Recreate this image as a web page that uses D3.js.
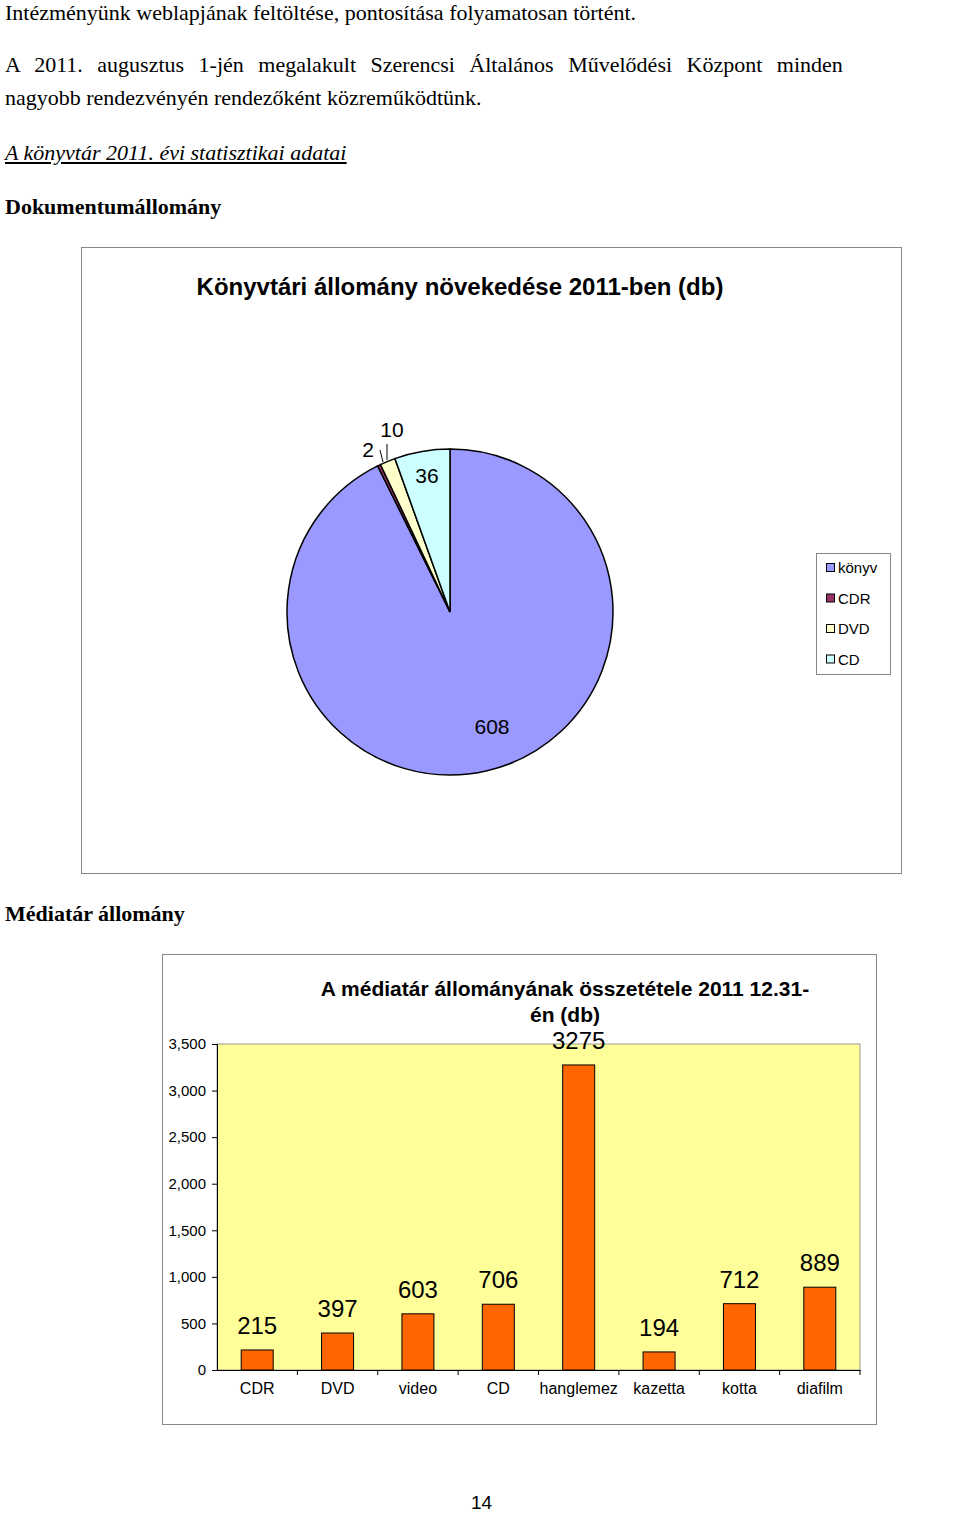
<!DOCTYPE html>
<html><head><meta charset="utf-8">
<script src="https://cdn.jsdelivr.net/npm/d3@7"></script>
<style>
body{margin:0;background:#fff;width:960px;height:1515px;position:relative;overflow:hidden}
.t{position:absolute;left:5px;font-family:"Liberation Serif",serif;font-size:22px;color:#000;white-space:nowrap}
</style></head><body>
<div class="t" style="top:0px">Intézményünk weblapjának feltöltése, pontosítása folyamatosan történt.</div>
<div class="t" style="top:52px;word-spacing:9px">A 2011. augusztus 1-jén megalakult Szerencsi Általános Művelődési Központ minden</div>
<div class="t" style="top:85px">nagyobb rendezvényén rendezőként közreműködtünk.</div>
<div class="t" style="top:140px;font-style:italic;text-decoration:underline;font-weight:bold;font-weight:normal"><span style="text-decoration:underline"> A könyvtár 2011. évi statisztikai adatai</span></div>
<div class="t" style="top:194px;font-weight:bold">Dokumentumállomány</div>
<div class="t" style="top:901px;font-weight:bold">Médiatár állomány</div>
<div class="t" style="top:1492px;left:471px;font-family:'Liberation Sans',sans-serif;font-size:19px">14</div>
<svg id="c" width="960" height="1515" style="position:absolute;left:0;top:0"></svg>
<script>
// pie data
const pieCats = ["könyv", "CDR", "DVD", "CD"];
const pieVals = [608, 2, 10, 36];
const pieColors = ["#9999FF", "#993366", "#FFFFCC", "#CCFFFF"];

// bar data
const barCats = ["CDR", "DVD", "video", "CD", "hanglemez", "kazetta", "kotta", "diafilm"];
const barVals = [215, 397, 603, 706, 3275, 194, 712, 889];
const yTicks = [0, 500, 1000, 1500, 2000, 2500, 3000, 3500];

const svg = d3.select("#c");
const font = "Liberation Sans, Arial, sans-serif";

// ---- pie chart
svg.append("rect").attr("x", 81.5).attr("y", 247.5).attr("width", 820).attr("height", 626)
  .attr("fill", "#fff").attr("stroke", "#888");
svg.append("text").attr("x", 460).attr("y", 295).attr("text-anchor", "middle")
  .attr("font-family", font).attr("font-weight", "bold").attr("font-size", 24)
  .text("Könyvtári állomány növekedése 2011-ben (db)");

const cx = 450, cy = 612, r = 163;
const arcs = d3.pie().sort(null)(pieVals);
const arc = d3.arc().innerRadius(0).outerRadius(r);
const pg = svg.append("g").attr("transform", `translate(${cx},${cy})`);
pg.selectAll("path").data(arcs).join("path")
  .attr("d", arc).attr("fill", (d, i) => pieColors[i])
  .attr("stroke", "#000").attr("stroke-width", 1.5);

// pie labels
const lab = [[42, 122], [-82, -155], [-58, -175], [-23, -129]];
pg.selectAll("text.l").data(pieVals).join("text")
  .attr("x", (d, i) => lab[i][0]).attr("y", (d, i) => lab[i][1])
  .attr("text-anchor", "middle").attr("font-family", font).attr("font-size", 21)
  .text(d => d);
// leader lines for small slices
const lead = [null, [[-70, -162], [-67, -150]], [[-63, -168], [-63, -152]], null];
lead.forEach(l => { if (l) pg.append("line").attr("x1", l[0][0]).attr("y1", l[0][1])
  .attr("x2", l[1][0]).attr("y2", l[1][1]).attr("stroke", "#000"); });

// legend
svg.append("rect").attr("x", 816.5).attr("y", 553.5).attr("width", 74).attr("height", 121)
  .attr("fill", "#fff").attr("stroke", "#888");
pieCats.forEach((c, i) => {
  const y = 568 + i * 30.5;
  svg.append("rect").attr("x", 826.5).attr("y", y - 4.5).attr("width", 8).attr("height", 8)
    .attr("fill", pieColors[i]).attr("stroke", "#000");
  svg.append("text").attr("x", 838).attr("y", y + 5).attr("font-family", font)
    .attr("font-size", 15).text(c);
});

// ---- bar chart
svg.append("rect").attr("x", 162.5).attr("y", 954.5).attr("width", 714).attr("height", 470)
  .attr("fill", "#fff").attr("stroke", "#888");
svg.append("text").attr("x", 565).attr("y", 996).attr("text-anchor", "middle")
  .attr("font-family", font).attr("font-weight", "bold").attr("font-size", 21)
  .text("A médiatár állományának összetétele 2011 12.31-");
svg.append("text").attr("x", 565).attr("y", 1022).attr("text-anchor", "middle")
  .attr("font-family", font).attr("font-weight", "bold").attr("font-size", 21)
  .text("én (db)");

const x = d3.scaleBand().domain(barCats).range([217, 860]);
const y = d3.scaleLinear().domain([0, 3500]).range([1370, 1044]);
svg.append("rect").attr("x", 217).attr("y", 1044).attr("width", 643).attr("height", 326)
  .attr("fill", "#FFFF99").attr("stroke", "#999");

svg.append("g").attr("transform", "translate(217,0)")
  .call(d3.axisLeft(y).tickValues(yTicks).tickSize(5).tickPadding(6))
  .call(g => g.select(".domain").attr("stroke", "#000"))
  .call(g => g.selectAll("text").attr("font-family", font).attr("font-size", 15).attr("fill", "#000"));
svg.append("g").attr("transform", "translate(0,1370)")
  .call(d3.axisBottom(x).tickSize(0).tickPadding(13))
  .call(g => g.select(".domain").attr("stroke", "#000"))
  .call(g => g.selectAll("text").attr("font-family", font).attr("font-size", 16).attr("fill", "#000"));
svg.append("g").selectAll("line").data(barCats.slice(1).concat(["end"])).join("line")
  .attr("x1", (d, i) => 217 + (i + 1) * x.step()).attr("x2", (d, i) => 217 + (i + 1) * x.step())
  .attr("y1", 1370).attr("y2", 1375).attr("stroke", "#000");

const bw = 32;
svg.append("g").selectAll("rect").data(barVals).join("rect")
  .attr("x", (d, i) => x(barCats[i]) + x.bandwidth() / 2 - bw / 2)
  .attr("y", d => y(d)).attr("width", bw).attr("height", d => 1370 - y(d))
  .attr("fill", "#FF6600").attr("stroke", "#000");
svg.append("g").selectAll("text").data(barVals).join("text")
  .attr("x", (d, i) => x(barCats[i]) + x.bandwidth() / 2)
  .attr("y", d => y(d) - 16).attr("text-anchor", "middle")
  .attr("font-family", font).attr("font-size", 24).text(d => d);
</script>
</body></html>
